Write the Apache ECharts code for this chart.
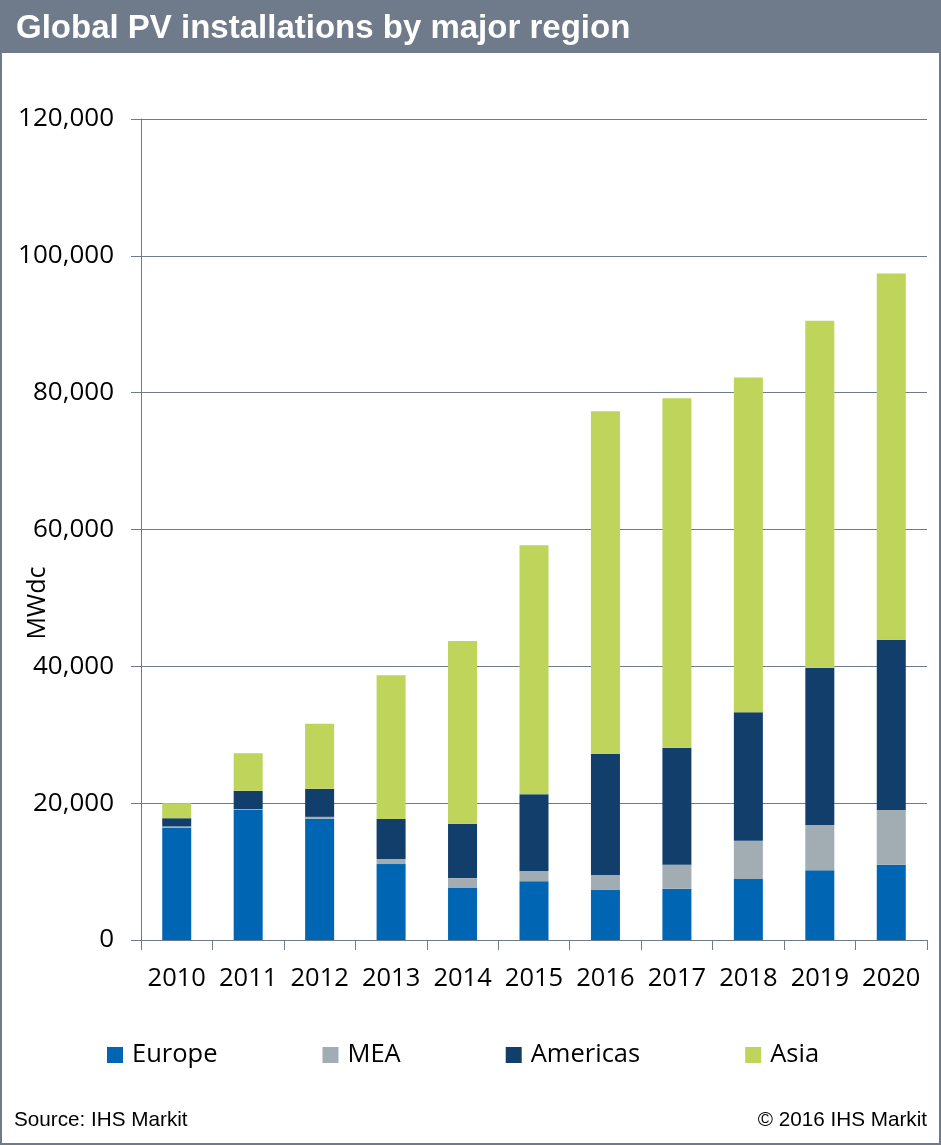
<!DOCTYPE html>
<html>
<head>
<meta charset="utf-8">
<script src="https://cdn.jsdelivr.net/npm/echarts@6/dist/echarts.min.js"></script>
<style>
  html, body { margin: 0; padding: 0; background: #fff; }
  #chart { width: 941px; height: 1145px; }
</style>
</head>
<body>
<div id="chart"></div>
<script>
var years = ['2010', '2011', '2012', '2013', '2014', '2015', '2016', '2017', '2018', '2019', '2020'];
// MWdc
var europe =   [16400, 19000, 17700, 11100,  7600,  8600,  7300,  7500,  8900, 10200, 11000];
var mea =      [  200,   150,   300,   750,  1450,  1500,  2200,  3500,  5600,  6600,  8000];
var americas = [ 1200,  2650,  4100,  5850,  7950, 11200, 17700, 17100, 18800, 23000, 24900];
var asia =     [ 2200,  5500,  9500, 21000, 26700, 36400, 50100, 51100, 48900, 50700, 53500];

var slate = '#6f7b8a';
var labelFont = '"Open Sans", "Noto Sans", sans-serif';
var noteFont = '"Liberation Sans", Arial, sans-serif';

function stack(name, values, color) {
    return {
        name: name,
        type: 'bar',
        stack: 'total',
        barWidth: 29,
        data: values,
        itemStyle: { color: color }
    };
}

var myChart = echarts.init(document.getElementById('chart'));
myChart.setOption({
    animation: false,
    backgroundColor: '#fff',
    grid: { left: 141, right: 14, top: 119, bottom: 205, containLabel: false },
    legend: {
        left: 102,
        top: 1037,
        icon: 'rect',
        itemWidth: 16,
        itemHeight: 16,
        itemGap: 105,
        textStyle: { fontFamily: labelFont, fontSize: 25.5, color: '#000', padding: [0, 0, 0, 4] },
        data: ['Europe', 'MEA', 'Americas', 'Asia']
    },
    xAxis: {
        type: 'category',
        data: years,
        axisLine: { lineStyle: { color: slate, width: 1 } },
        axisTick: { show: true, length: 10, alignWithLabel: false, lineStyle: { color: slate } },
        axisLabel: { fontFamily: labelFont, fontSize: 25.5, color: '#000', margin: 26, interval: 0 }
    },
    yAxis: {
        type: 'value',
        min: 0,
        max: 120000,
        interval: 20000,
        axisLine: { show: true, lineStyle: { color: slate, width: 1 } },
        axisTick: { show: true, length: 10, lineStyle: { color: slate } },
        splitLine: { lineStyle: { color: slate, width: 1 } },
        axisLabel: {
            fontFamily: labelFont, fontSize: 26, color: '#000', margin: 27, padding: [2, 0, 0, 0],
            formatter: function (v) { return v.toLocaleString('en-US'); }
        }
    },
    series: [
        stack('Europe', europe, '#0066b3'),
        stack('MEA', mea, '#a2acb3'),
        stack('Americas', americas, '#123e6b'),
        stack('Asia', asia, '#bed45a')
    ],
    graphic: [
        // title band and outer frame
        { type: 'rect', z: -1, shape: { x: 0, y: 0, width: 941, height: 53 }, style: { fill: slate } },
        { type: 'rect', z: 10, shape: { x: 1, y: 1, width: 939, height: 1143 }, style: { fill: 'none', stroke: slate, lineWidth: 2 } },
        { type: 'text', z: 11, left: 16, top: 12, style: { text: 'Global PV installations by major region', fill: '#fff', font: 'bold 33px ' + noteFont } },
        { type: 'text', z: 11, x: 38, y: 603, rotation: Math.PI / 2, style: { text: 'MWdc', fill: '#000', font: '25px ' + labelFont, align: 'center', verticalAlign: 'middle' } },
        { type: 'text', z: 11, left: 14, top: 1110, style: { text: 'Source: IHS Markit', fill: '#000', font: '20.7px ' + noteFont } },
        { type: 'text', z: 11, right: 14, top: 1110, style: { text: '\u00a9 2016 IHS Markit', fill: '#000', font: '20.7px ' + noteFont } }
    ]
});
</script>
</body>
</html>
